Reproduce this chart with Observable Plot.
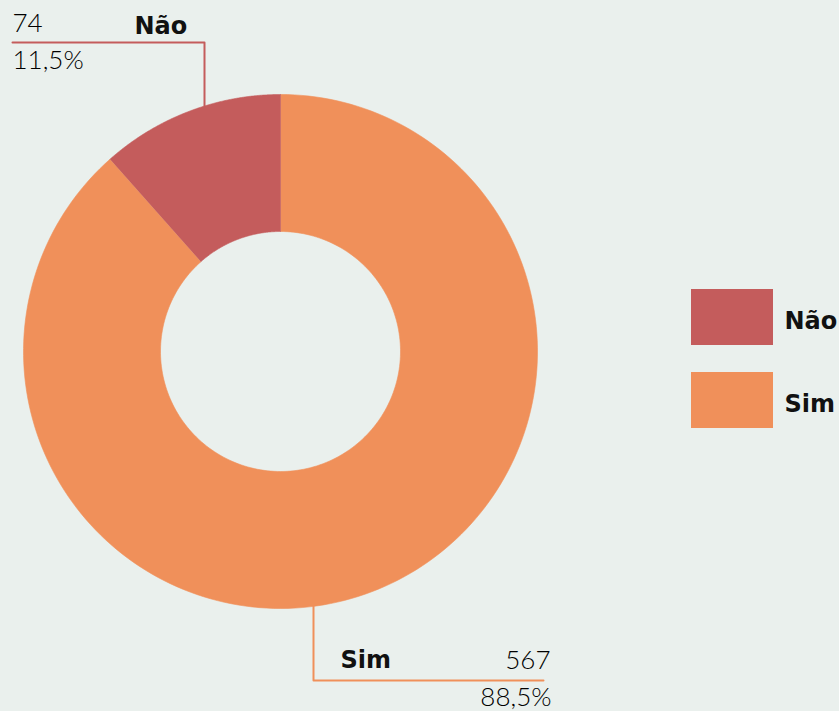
<!DOCTYPE html>
<html>
<head>
<meta charset="utf-8">
<script src="https://cdn.jsdelivr.net/npm/d3@7"></script>
<script src="https://cdn.jsdelivr.net/npm/@observablehq/plot@0.6"></script>
<style>
  html, body { margin: 0; padding: 0; background: #eaf0ed; }
  #chart svg { display: block; background: #eaf0ed; }
</style>
</head>
<body>
<div id="chart"></div>
<script>
// Data
const categories = ["Sim", "Não"];
const counts = [567, 74];
const percentLabels = ["88,5%", "11,5%"];
const countLabels = ["567", "74"];
const colors = ["#f0905a", "#c45c5c"];
const legendOrder = ["Não", "Sim"];

// Layout
const W = 839, H = 711;
const cx = 280, cy = 351, R = 257, r0 = 120;

const data = categories.map((c, i) => ({cat: c, count: counts[i]}));
const arcs = d3.pie().sort(null).value(d => d.count)(data);

const pt = (a, rad) => [cx + rad * Math.sin(a), cy - rad * Math.cos(a)];
const polys = [];
arcs.forEach(a => {
  const n = 200;
  for (let k = 0; k <= n; k++) {
    const ang = a.startAngle + (a.endAngle - a.startAngle) * k / n;
    const [x, y] = pt(ang, R);
    polys.push({cat: a.data.cat, x, y});
  }
  for (let k = n; k >= 0; k--) {
    const ang = a.startAngle + (a.endAngle - a.startAngle) * k / n;
    const [x, y] = pt(ang, r0);
    polys.push({cat: a.data.cat, x, y});
  }
});

// leader lines (annotation geometry)
const arcY = (x, top) => cy + (top ? -1 : 1) * Math.sqrt(R * R - (x - cx) * (x - cx));
const naoX = 204, simX = 313;
const leaders = [
  {cat: "Não", pts: [[naoX, arcY(naoX, true)], [naoX, 42], [12, 42]]},
  {cat: "Sim", pts: [[simX, arcY(simX, false)], [simX, 680], [543, 680]]}
];
const leaderPts = leaders.flatMap(l => l.pts.map(([x, y]) => ({cat: l.cat, x, y})));

const boldFont = "DejaVu Sans";
const lightFont = "Lato";

const labelsBold = [
  {text: "Não", x: 134, y: 33},
  {text: "Sim", x: 340, y: 667}
];
const labelsNumStart = [
  {text: countLabels[1], x: 12, y: 31},
  {text: percentLabels[1], x: 12, y: 68}
];
const labelsNumEnd = [
  {text: countLabels[0], x: 550, y: 668},
  {text: percentLabels[0], x: 551, y: 705}
];

const legend = legendOrder.map((c, i) => ({cat: c, x1: 691, x2: 773, y1: 289 + i * 83, y2: 345 + i * 83, ty: 328 + i * 83}));

const numStyle = {x: "x", y: "y", text: "text", lineAnchor: "bottom",
  fontFamily: lightFont, fontWeight: 300, fontSize: 26, fill: "#000"};

const chart = Plot.plot({
  width: W,
  height: H,
  margin: 0,
  x: {domain: [0, W], range: [0, W], axis: null},
  y: {domain: [0, H], range: [0, H], axis: null},
  color: {domain: categories, range: colors},
  style: {background: "#eaf0ed"},
  marks: [
    Plot.line(polys, {x: "x", y: "y", z: "cat", fill: "cat", stroke: "cat", strokeWidth: 0.6, curve: "linear"}),
    Plot.line(leaderPts, {x: "x", y: "y", z: "cat", stroke: "cat", strokeWidth: 2, curve: "linear"}),
    Plot.text(labelsBold, {x: "x", y: "y", text: "text", textAnchor: "start", lineAnchor: "bottom",
      fontFamily: boldFont, fontWeight: "bold", fontSize: 24, fill: "#111"}),
    Plot.text(labelsNumStart, {...numStyle, textAnchor: "start"}),
    Plot.text(labelsNumEnd, {...numStyle, textAnchor: "end"}),
    Plot.rect(legend, {x1: "x1", x2: "x2", y1: "y1", y2: "y2", fill: "cat"}),
    Plot.text(legend, {x: 784, y: "ty", text: "cat", textAnchor: "start", lineAnchor: "bottom",
      fontFamily: boldFont, fontWeight: "bold", fontSize: 24, fill: "#111"})
  ]
});
document.getElementById("chart").appendChild(chart);
</script>
</body>
</html>
